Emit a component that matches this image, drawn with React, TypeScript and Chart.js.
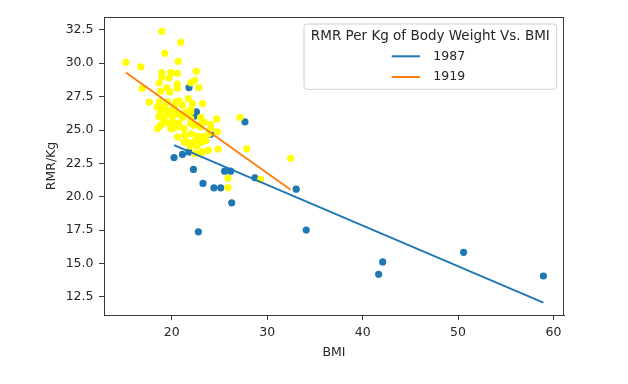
import React, { useEffect, useRef } from 'react';
import { Chart, registerables } from 'chart.js';

Chart.register(...registerables);

// ---- data ----
const bmi1987 = [20.24, 21.12, 21.81, 21.81, 22.58, 22.33, 24.08, 27.67, 22.27, 23.27, 24.42, 25.13, 25.54, 26.17, 26.28, 28.71, 33.04, 22.79, 34.09, 41.68, 42.1, 50.58, 58.94];
const rmr1987 = [22.94, 23.17, 23.36, 28.18, 26.35, 26.03, 24.69, 25.61, 22.05, 21.0, 20.67, 20.67, 21.92, 21.92, 19.55, 21.42, 20.57, 17.38, 17.51, 14.2, 15.12, 15.84, 14.07];

const bmi1919 = [18.95, 20.94, 19.27, 20.68, 15.19, 16.76, 22.56, 18.95, 19.9, 20.58, 18.95, 19.74, 22.41, 21.99, 18.69, 20.58, 20.58, 19.48, 22.82, 16.89, 18.85, 19.79, 21.73, 17.65, 18.69, 19.55, 20.76, 21.12, 23.24, 18.5, 19.19, 20.24, 21.99, 18.85, 19.55, 20.6, 20.94, 18.67, 19.19, 20.07, 21.12, 21.99, 23.03, 24.71, 27.14, 23.38, 18.85, 19.72, 20.76, 21.99, 22.86, 24.08, 18.5, 20.07, 21.29, 23.03, 24.08, 24.78, 20.6, 21.36, 22.04, 22.67, 23.3, 23.87, 21.64, 22.41, 23.03, 23.56, 21.94, 22.62, 23.21, 23.82, 24.84, 27.85, 22.41, 32.45, 25.89, 29.31, 25.89, 21.46, 20.1, 19.37, 19.9, 21.29, 21.99, 19.03, 20.24, 20.42, 19.9, 20.76, 21.29, 22.33, 22.16, 22.86, 21.99];
const rmr1919 = [32.39, 31.57, 30.74, 30.14, 30.07, 29.73, 29.4, 29.29, 29.29, 29.25, 28.95, 28.91, 28.72, 28.54, 28.52, 28.43, 28.13, 28.16, 28.18, 28.1, 27.9, 27.85, 27.36, 27.08, 27.1, 27.1, 27.18, 26.86, 26.98, 26.71, 26.71, 26.78, 26.53, 26.35, 26.23, 26.23, 26.11, 26.0, 25.86, 25.98, 25.96, 25.86, 25.94, 25.83, 25.94, 25.61, 25.36, 25.49, 25.49, 25.49, 25.36, 25.43, 25.11, 25.11, 25.11, 25.23, 25.11, 24.87, 24.49, 24.61, 24.72, 24.54, 24.5, 24.72, 24.11, 24.13, 24.05, 24.19, 23.79, 23.79, 23.36, 23.49, 23.57, 23.59, 23.24, 22.87, 21.4, 21.3, 20.69, 26.33, 26.56, 26.48, 26.23, 26.23, 26.35, 25.49, 25.49, 27.1, 25.11, 25.23, 24.11, 25.36, 26.98, 23.24, 23.99];

const fitX1987 = [20.24, 58.94];
const fitY1987 = [23.86, 12.07];
const fitX1919 = [15.19, 32.45];
const fitY1919 = [29.3, 20.52];

const seriesNames = ['1987', '1919'];
const legendTitle = 'RMR Per Kg of Body Weight Vs. BMI';
const xLabel = 'BMI';
const yLabel = 'RMR/Kg';

const xMin = 12.9, xMax = 61.1, xStep = 10;
const yMin = 11.15, yMax = 33.46, yStep = 2.5;

// ---- styles ----
const BLUE = '#1f77b4';
const ORANGE = '#ff7f0e';
const YELLOW = '#ffff00';
const TEXT = '#262626';
const SPINE = '#3a3a3a';
const FONT = "'DejaVu Sans', sans-serif";

const pts = (xs: number[], ys: number[]) => xs.map((x, i) => ({ x, y: ys[i] }));

const framePlugin = {
  id: 'frame',
  afterDraw(chart: any) {
    const { ctx, chartArea } = chart;
    ctx.save();
    ctx.strokeStyle = SPINE;
    ctx.lineWidth = 1;
    ctx.beginPath();
    ctx.moveTo(chartArea.left, Math.round(chartArea.top) + 0.5);
    ctx.lineTo(chartArea.right, Math.round(chartArea.top) + 0.5);
    ctx.moveTo(Math.round(chartArea.right) - 0.5, chartArea.top);
    ctx.lineTo(Math.round(chartArea.right) - 0.5, chartArea.bottom);
    ctx.stroke();
    ctx.restore();
  },
};

const legendPlugin = {
  id: 'boxLegend',
  afterDraw(chart: any) {
    const { ctx, chartArea } = chart;
    const w = 252.7;
    const h = 65.3;
    const x0 = chartArea.right - 7.3 - w;
    const y0 = chartArea.top + 7;
    const r = 3;
    ctx.save();
    ctx.beginPath();
    ctx.moveTo(x0 + r, y0);
    ctx.arcTo(x0 + w, y0, x0 + w, y0 + h, r);
    ctx.arcTo(x0 + w, y0 + h, x0, y0 + h, r);
    ctx.arcTo(x0, y0 + h, x0, y0, r);
    ctx.arcTo(x0, y0, x0 + w, y0, r);
    ctx.closePath();
    ctx.fillStyle = 'rgba(255,255,255,0.8)';
    ctx.fill();
    ctx.strokeStyle = '#d0d0d0';
    ctx.lineWidth = 1;
    ctx.stroke();

    const cx = x0 + w / 2;
    ctx.fillStyle = TEXT;
    ctx.font = `13.5px ${FONT}`;
    ctx.textAlign = 'center';
    ctx.textBaseline = 'middle';
    ctx.fillText(legendTitle, cx, y0 + 12.5);

    const colors = [BLUE, ORANGE];
    ctx.font = `12.5px ${FONT}`;
    ctx.textAlign = 'left';
    seriesNames.forEach((name, i) => {
      const yy = y0 + 32.3 + i * 20.7;
      ctx.strokeStyle = colors[i];
      ctx.lineWidth = 2;
      ctx.beginPath();
      ctx.moveTo(x0 + 87.7, yy);
      ctx.lineTo(x0 + 116, yy);
      ctx.stroke();
      ctx.fillText(name, x0 + 129.3, yy);
    });
    ctx.restore();
  },
};

export default function App() {
  const ref = useRef<HTMLCanvasElement | null>(null);

  useEffect(() => {
    document.body.style.margin = '0';
    const canvas = ref.current;
    if (!canvas) return;
    Chart.defaults.font.family = FONT;
    Chart.defaults.font.size = 12.5;
    Chart.defaults.color = TEXT;

    const chart = new Chart(canvas, {
      type: 'scatter',
      data: {
        datasets: [
          {
            label: seriesNames[1],
            data: pts(fitX1919, fitY1919),
            showLine: true,
            borderColor: ORANGE,
            borderWidth: 1.9,
            pointRadius: 0,
            fill: false,
            order: 0,
          } as any,
          {
            label: seriesNames[0],
            data: pts(fitX1987, fitY1987),
            showLine: true,
            borderColor: BLUE,
            borderWidth: 1.9,
            pointRadius: 0,
            fill: false,
            order: 1,
          } as any,
          {
            label: '1919 data',
            data: pts(bmi1919, rmr1919),
            backgroundColor: YELLOW,
            borderWidth: 0,
            pointRadius: 3.6,
            order: 2,
          },
          {
            label: '1987 data',
            data: pts(bmi1987, rmr1987),
            backgroundColor: BLUE,
            borderWidth: 0,
            pointRadius: 3.6,
            order: 3,
          },
        ],
      },
      options: {
        animation: false,
        responsive: false,
        events: [],
        layout: { padding: { left: 0, right: 64, top: 17, bottom: 0 } },
        plugins: {
          legend: { display: false },
          tooltip: { enabled: false },
        },
        scales: {
          x: {
            type: 'linear',
            position: 'bottom',
            min: xMin,
            max: xMax,
            afterFit: (s: any) => {
              s.height = 69;
            },
            ticks: {
              stepSize: xStep,
              includeBounds: false,
              padding: 5.5,
              color: TEXT,
              maxRotation: 0,
              callback: (v: any) => String(v),
            },
            grid: {
              drawOnChartArea: false,
              drawTicks: true,
              tickLength: 5,
              color: SPINE,
              lineWidth: 1,
            },
            border: { display: true, color: SPINE, width: 1 },
            title: {
              display: true,
              text: xLabel,
              color: TEXT,
              font: { size: 12.5 },
              padding: { top: 0, bottom: 23.8 },
            },
          },
          y: {
            type: 'linear',
            position: 'left',
            min: yMin,
            max: yMax,
            afterFit: (s: any) => {
              s.width = 104;
            },
            ticks: {
              stepSize: yStep,
              includeBounds: false,
              padding: 5.5,
              color: TEXT,
              callback: (v: any) => Number(v).toFixed(1),
            },
            grid: {
              drawOnChartArea: false,
              drawTicks: true,
              tickLength: 5,
              color: SPINE,
              lineWidth: 1,
            },
            border: { display: true, color: SPINE, width: 1 },
            title: {
              display: true,
              text: yLabel,
              color: TEXT,
              font: { size: 12.5 },
              padding: { top: 44.2, bottom: 0 },
            },
          },
        },
      },
      plugins: [framePlugin, legendPlugin],
    });
    return () => chart.destroy();
  }, []);

  return (
    <div style={{ position: 'absolute', left: 0, top: 0, width: 628, height: 384 }}>
      <canvas ref={ref} width={628} height={384} />
    </div>
  );
}
